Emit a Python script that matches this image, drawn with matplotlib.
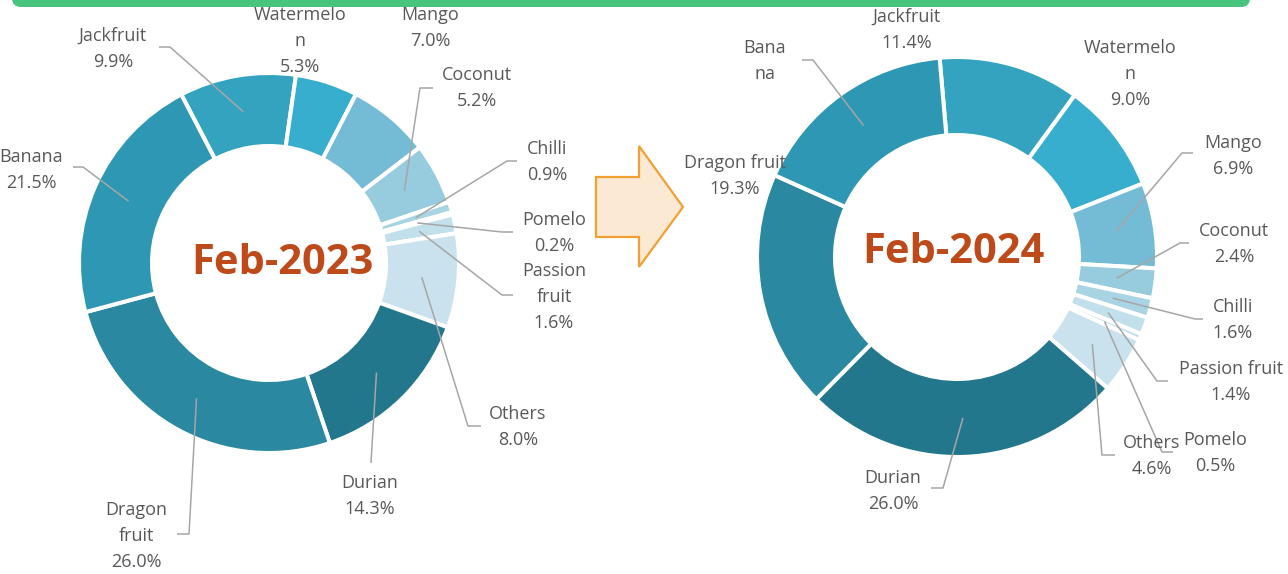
import matplotlib.pyplot as plt
import numpy as np
from matplotlib.patches import Polygon, FancyBboxPatch

plt.rcParams['font.family'] = ['Open Sans', 'DejaVu Sans']

W, H = 1288, 574

# Feb-2023 (clockwise from Jackfruit)
names_2023 = ['Jackfruit', 'Watermelon', 'Mango', 'Coconut', 'Chilli', 'Pomelo',
              'Passion fruit', 'Others', 'Durian', 'Dragon fruit', 'Banana']
shares_2023 = [9.9, 5.3, 7.0, 5.2, 0.9, 0.2, 1.6, 8.0, 14.3, 26.0, 21.5]
text_2023 = ['Jackfruit', 'Watermelo\nn', 'Mango', 'Coconut', 'Chilli', 'Pomelo',
             'Passion\nfruit', 'Others', 'Durian', 'Dragon\nfruit', 'Banana']

# Feb-2024 (clockwise from Jackfruit)
names_2024 = ['Jackfruit', 'Watermelon', 'Mango', 'Coconut', 'Chilli', 'Passion fruit',
              'Pomelo', 'Others', 'Durian', 'Dragon fruit', 'Banana']
shares_2024 = [11.4, 9.0, 6.9, 2.4, 1.6, 1.4, 0.5, 4.6, 26.0, 19.3, 16.9]
text_2024 = ['Jackfruit', 'Watermelo\nn', 'Mango', 'Coconut', 'Chilli', 'Passion fruit',
             'Pomelo', 'Others', 'Durian', 'Dragon fruit', 'Bana\nna']
show_pct_2024 = [True] * 10 + [False]

colors = {
    'Jackfruit': '#33A3C0', 'Watermelon': '#37AECE', 'Mango': '#74BCD6',
    'Coconut': '#97CBDE', 'Chilli': '#A9D4E4', 'Pomelo': '#BDDEEA',
    'Passion fruit': '#C2E0EB', 'Others': '#C9E2ED', 'Durian': '#22778D',
    'Dragon fruit': '#2A89A1', 'Banana': '#2E97B3',
}

# label layout in pixel coords (x, y from top); leader: (elbow, end) or None
pos_2023 = [(113, 49), (300, 41), (430, 28), (477, 88), (547, 162), (554, 233),
            (554, 297), (518, 427), (370, 496), (136, 536), (31, 170)]
lead_2023 = [((170, 47), (159, 47)), None, None, ((420, 88), (433, 88)),
             ((507, 161), (517, 161)), ((502, 232), (513, 232)),
             ((502, 295), (513, 295)), ((468, 426), (481, 426)),
             ((371, 463), (371, 463)), ((189, 534), (177, 534)),
             ((83, 167), (73, 167))]
pos_2024 = [(907, 30), (1130, 74), (1233, 156), (1234, 244), (1233, 320), (1231, 382),
            (1215, 453), (1152, 456), (893, 491), (735, 176), (765, 61)]
lead_2024 = [None, None, ((1182, 153), (1193, 153)), ((1180, 243), (1189, 243)),
             ((1195, 319), (1203, 319)), ((1157, 381), (1168, 381)),
             ((1162, 452), (1173, 452)), ((1102, 455), (1115, 455)),
             ((943, 488), (931, 488)), None, ((813, 60), (802, 60))]

text_color = '#595959'
line_color = '#A6A6A6'

fig = plt.figure(figsize=(W / 100, H / 100), dpi=100)
ax = fig.add_axes([0, 0, 1, 1])


def donut(names, shares, texts, pos, leads, cx, cy, R, r, start, title, tx, ty, show_pct=None):
    center = (cx, H - cy)
    ax.pie(shares, colors=[colors[n] for n in names], startangle=start,
           counterclock=False, radius=R, center=center,
           wedgeprops=dict(width=R - r, edgecolor='white', linewidth=2.9))
    total = sum(shares)
    cum = np.cumsum([0] + shares[:-1])
    rmid = (R + r) / 2
    for i, v in enumerate(shares):
        ang = np.radians(start - 360 * (cum[i] + v / 2) / total)
        sx = center[0] + rmid * np.cos(ang)
        sy = center[1] + rmid * np.sin(ang)
        if leads[i] is not None:
            (ex, ey), (fx, fy) = leads[i]
            ax.plot([sx, ex, fx], [sy, H - ey, H - fy], color=line_color, lw=1.1,
                    solid_capstyle='butt', zorder=3)
        s = texts[i]
        if show_pct is None or show_pct[i]:
            s = s + '\n' + f'{v:.1f}%'
        ax.text(pos[i][0], H - pos[i][1], s, ha='center', va='center',
                multialignment='center', fontsize=13, color=text_color,
                linespacing=1.6, zorder=4)
    ax.text(tx, H - ty, title, ha='center', va='baseline', fontsize=30,
            fontweight='bold', color='#BE4A1A', zorder=4)


donut(names_2023, shares_2023, text_2023, pos_2023, lead_2023,
      269, 263, 190, 117, 117.5, 'Feb-2023', 282, 274)
donut(names_2024, shares_2024, text_2024, pos_2024, lead_2024,
      957, 257, 200, 122, 95.0, 'Feb-2024', 953, 263, show_pct_2024)

# green banner at top
ax.add_patch(FancyBboxPatch((12, H - 7), 1238, 40,
                            boxstyle='round,pad=0,rounding_size=9',
                            facecolor='#48C47F', edgecolor='none', zorder=5))

# arrow between charts
arrow = [(596, 177), (639, 177), (639, 146), (683, 207), (639, 267), (639, 237), (596, 237)]
ax.add_patch(Polygon([(x, H - y) for x, y in arrow], closed=True,
                     facecolor='#FCE9D4', edgecolor='#F2A032', lw=1.6, zorder=5))

ax.set_xlim(0, W)
ax.set_ylim(0, H)
ax.set_aspect('equal')
ax.axis('off')

fig.savefig('out.png', dpi=100)
